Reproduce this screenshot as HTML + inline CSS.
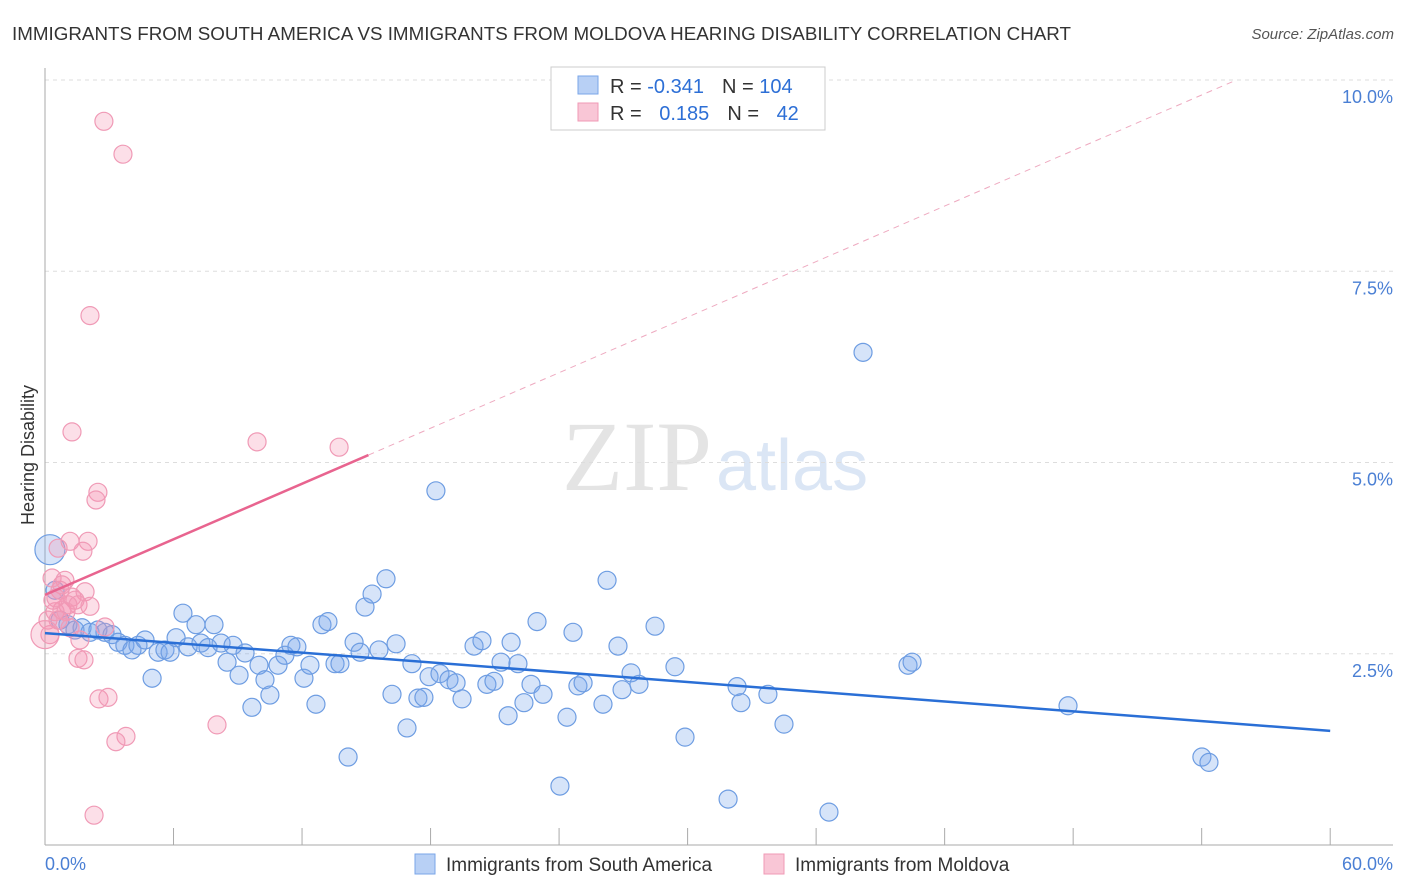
<!DOCTYPE html>
<html><head><meta charset="utf-8"><style>
body{margin:0;background:#fff;font-family:"Liberation Sans",sans-serif}
svg{display:block}
</style></head><body>
<svg id="chart" width="1406" height="892">
<text x="12" y="40" font-size="18" fill="#333" textLength="1059" lengthAdjust="spacingAndGlyphs">IMMIGRANTS FROM SOUTH AMERICA VS IMMIGRANTS FROM MOLDOVA HEARING DISABILITY CORRELATION CHART</text>
<text x="1394" y="39" font-size="15" fill="#555" font-style="italic" text-anchor="end">Source: ZipAtlas.com</text>
<text x="712" y="490" font-size="100" fill="#e4e4e4" text-anchor="end" font-family="Liberation Serif">ZIP</text>
<text x="716" y="490" font-size="72" fill="#dbe6f5">atlas</text>
<g id="grid"></g><g id="axes"></g><g id="marks"></g>
<text transform="translate(34,455) rotate(-90)" font-size="18" fill="#333" text-anchor="middle">Hearing Disability</text>
<g>
<rect x="551" y="67" width="274" height="63" fill="#fff" stroke="#ccc"/>
<rect x="578" y="76" width="20" height="18" fill="#b8d0f5" stroke="#7aa6e8"/>
<rect x="578" y="103" width="20" height="18" fill="#f9c6d6" stroke="#f09ab6"/>
<text x="610" y="93" font-size="20" fill="#333">R = <tspan fill="#2d6fd6">-0.341</tspan><tspan dx="18">N = </tspan><tspan fill="#2d6fd6">104</tspan></text>
<text x="610" y="120" font-size="20" fill="#333">R = <tspan dx="12" fill="#2d6fd6">0.185</tspan><tspan dx="18">N = </tspan><tspan dx="12" fill="#2d6fd6">42</tspan></text>
</g>
<g>
<rect x="415" y="854" width="20" height="20" fill="#b8d0f5" stroke="#7aa6e8"/>
<text x="446" y="871" font-size="19" fill="#333">Immigrants from South America</text>
<rect x="764" y="854" width="20" height="20" fill="#f9c6d6" stroke="#f09ab6"/>
<text x="795" y="871" font-size="19" fill="#333">Immigrants from Moldova</text>
</g>
</svg>
<script>
const blueX=[0.23,0.47,0.7,1.07,1.4,1.73,2.1,2.47,2.8,3.13,3.41,3.73,4.06,4.34,4.67,5.0,5.28,5.6,5.84,6.12,6.44,6.68,7.05,7.28,7.61,7.89,8.22,8.5,8.78,9.06,9.34,9.66,9.99,10.27,10.5,10.88,11.2,11.48,11.76,12.09,12.37,12.65,12.93,13.21,13.54,13.77,14.15,14.43,14.71,14.94,15.27,15.59,15.92,16.2,16.39,16.9,17.13,17.41,17.69,17.93,18.25,18.44,18.86,19.19,19.47,20.03,20.4,20.63,20.96,21.29,21.62,21.76,22.08,22.36,22.69,22.97,23.25,24.04,24.37,24.65,24.88,25.12,26.05,26.24,26.75,26.94,27.36,27.73,28.48,29.41,29.88,31.89,32.31,32.49,33.75,34.5,36.6,38.19,40.29,40.48,47.76,54.01,54.34];
const blueY=[3.86,3.33,2.94,2.88,2.81,2.84,2.78,2.81,2.78,2.75,2.65,2.61,2.55,2.61,2.68,2.18,2.52,2.55,2.52,2.71,3.03,2.59,2.88,2.64,2.58,2.88,2.64,2.39,2.61,2.22,2.51,1.8,2.35,2.16,1.96,2.35,2.48,2.61,2.59,2.18,2.35,1.84,2.88,2.92,2.37,2.37,1.15,2.65,2.52,3.11,3.28,2.55,3.48,1.97,2.63,1.53,2.37,1.92,1.93,2.2,4.63,2.24,2.16,2.12,1.91,2.6,2.67,2.1,2.14,2.39,1.69,2.65,2.37,1.86,2.1,2.92,1.97,0.77,1.67,2.78,2.08,2.12,1.84,3.46,2.6,2.03,2.25,2.1,2.86,2.33,1.41,0.6,2.07,1.86,1.97,1.58,0.43,6.44,2.35,2.39,1.82,1.15,1.08];
const pinkX=[2.75,3.64,2.1,1.26,9.9,13.73,2.47,2.38,2.01,1.17,1.77,0.61,0.33,0.93,0.7,1.26,1.87,1.4,1.07,0.79,1.54,0.47,0.14,0.61,0.23,0,2.8,1.63,1.54,1.82,2.52,2.94,8.03,3.78,3.31,2.29,0.98,2.1,0.37,1.17,0.79,0.51];
const pinkY=[9.46,9.03,6.92,5.4,5.27,5.2,4.61,4.51,3.97,3.97,3.84,3.88,3.49,3.46,3.33,3.24,3.31,3.2,3.14,3.07,3.14,3.05,2.94,2.94,2.75,2.75,2.85,2.68,2.44,2.42,1.91,1.93,1.57,1.42,1.35,0.39,3.05,3.12,3.2,2.84,3.4,3.23];
const blueTrend=[2.77,-0.0213];
const pinkTrend=[3.27,0.121];
const yTicks=[2.5,5.0,7.5,10.0];
const yTickLabels=["2.5%","5.0%","7.5%","10.0%"];
const xTicks=[0,6,12,18,24,30,36,42,48,54,60];
const NS="http://www.w3.org/2000/svg";
const X=v=>45+v*21.42, Y=v=>845-v*76.5;
function mk(tag,attrs,parent){const e=document.createElementNS(NS,tag);for(const k in attrs)e.setAttribute(k,attrs[k]);document.getElementById(parent).appendChild(e);return e;}
yTicks.forEach((t,i)=>{
 const g=mk('line',{x1:45,x2:1393,y1:Y(t),y2:Y(t),stroke:'#ddd','stroke-dasharray':'4,4'},'grid');
 
 
 const l=mk('text',{x:1393,y:Y(t)+23,'font-size':18,fill:'#4a7fd4','text-anchor':'end'},'axes');
 l.textContent=yTickLabels[i];
 
 
});
const ax=mk('line',{x1:45,x2:45,y1:68,y2:845,stroke:'#aaa'},'axes');


const bx=mk('line',{x1:45,x2:1393,y1:845,y2:845,stroke:'#aaa'},'axes');


xTicks.forEach(t=>{const k=mk('line',{x1:X(t),x2:X(t),y1:828,y2:845,stroke:'#aaa'},'axes');
 
 });
[[0,"0.0%",45,'start'],[60,"60.0%",1393,'end']].forEach(a=>{const l=mk('text',{x:a[2],y:870,'font-size':18,fill:'#4a7fd4','text-anchor':a[3]},'axes');l.textContent=a[1];
 
 });
blueX.forEach((x,i)=>{const c=mk('circle',{cx:X(x),cy:Y(blueY[i]),r:i===0?15:9,fill:'rgba(120,165,235,0.3)',stroke:'#6e9de2','stroke-width':1.2},'marks');
 
 });
pinkX.forEach((x,i)=>{const c=mk('circle',{cx:X(x),cy:Y(pinkY[i]),r:i===25?14:9,fill:'rgba(245,150,180,0.3)',stroke:'#f09ab6','stroke-width':1.2},'marks');
 
 });
const bt=mk('line',{x1:X(0),y1:Y(blueTrend[0]),x2:X(60),y2:Y(blueTrend[0]+60*blueTrend[1]),stroke:'#2a6fd6','stroke-width':2.5},'marks');


const pt=mk('line',{x1:X(0),y1:Y(pinkTrend[0]),x2:X(15.1),y2:Y(pinkTrend[0]+15.1*pinkTrend[1]),stroke:'#e8648f','stroke-width':2.5},'marks');


const xe=(10-pinkTrend[0])/pinkTrend[1];
const pd=mk('line',{x1:X(15.1),y1:Y(pinkTrend[0]+15.1*pinkTrend[1]),x2:X(xe),y2:Y(10),stroke:'#eeaac0','stroke-width':1,'stroke-dasharray':'6,5'},'marks');


</script>
</body></html>
